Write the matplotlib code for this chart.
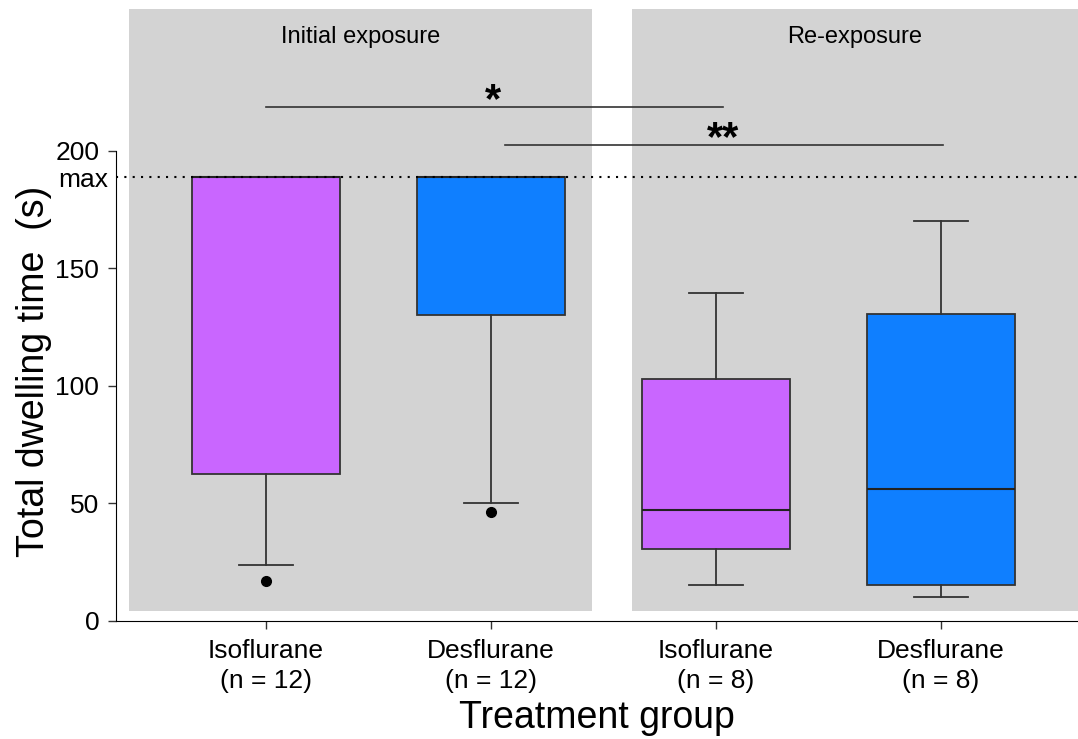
"""
Boxplot of total dwelling time by treatment group, initial exposure vs re-exposure.
"""
import numpy as np
import matplotlib.pyplot as plt
from matplotlib.patches import Rectangle

plt.rcParams.update({
    "font.family": ["Liberation Sans", "DejaVu Sans"],
    "font.size": 19,
})

# ---- data
groups = ["Isoflurane\n(n = 12)", "Desflurane\n(n = 12)", "Isoflurane\n(n = 8)", "Desflurane\n(n = 8)"]
whislo = [24, 50, 15.4, 10.2]
q1 = [62.7, 130, 30.7, 15.4]
med = [189, 189, 47.3, 56.3]
q3 = [189, 189, 103, 130.5]
whishi = [189, 189, 139.4, 170]
fliers = [[17], [46.5], [], []]
colors = ["#C966FF", "#0F7FFF", "#C966FF", "#0F7FFF"]
max_time = 189
yticks = [0, 50, 100, 150, 200]
panel_names = ["Initial exposure", "Re-exposure"]
# (x start, x end, y of bar, label, x of label)
sig_pairs = [(1, 3.03, 218.6, "*", 2.01), (2.06, 4.01, 202.4, "**", 3.03)]

W, H = 1078, 739
fig = plt.figure(figsize=(W / 100, H / 100), dpi=100)
ax = fig.add_axes([116 / W, (H - 621) / H, (W - 116) / W, 621 / H])
ax.set_xlim(0.333, 4.609)
ax.set_ylim(0, 264.1)

# grey background panels
panels = [(0.391, 2.449), (2.627, 4.609)]
for (x0, x1), name in zip(panels, panel_names):
    ax.add_patch(Rectangle((x0, 4.1), x1 - x0, 256, fc="#D3D3D3", ec="none", zorder=0))
    ax.text((x0 + x1) / 2, 248.4, name, ha="center", va="center", fontsize=17)

stats = []
for i in range(len(groups)):
    stats.append(dict(whislo=whislo[i], q1=q1[i], med=med[i], q3=q3[i],
                      whishi=whishi[i], fliers=fliers[i]))
pos = np.arange(1, len(groups) + 1)
edge = "#333333"
bp = ax.bxp(stats, positions=pos, widths=0.66, patch_artist=True,
            boxprops=dict(edgecolor=edge, linewidth=1.3),
            medianprops=dict(color="#222222", linewidth=1.5),
            whiskerprops=dict(color=edge, linewidth=1.3),
            capprops=dict(color=edge, linewidth=1.3),
            capwidths=0.24,
            flierprops=dict(marker="o", markerfacecolor="black", markeredgecolor="black",
                            markersize=7),
            zorder=3)
for patch, c in zip(bp["boxes"], colors):
    patch.set_facecolor(c)

# max line
ax.axhline(max_time, color="black", linestyle=(0, (1, 3)), linewidth=1.5, zorder=4)
ax.text(0.333 - 0.036, max_time - 1.5, "max", ha="right", va="center", fontsize=19)

# significance bars
for x0, x1, y, lab, xl in sig_pairs:
    ax.plot([x0, x1], [y, y], color="#333333", linewidth=1.2, zorder=4)
    ax.text(xl, y - 6, lab, ha="center", va="bottom", fontsize=30, fontweight="bold")

ax.set_xticks(pos)
ax.set_xticklabels(groups, linespacing=1.3)
ax.set_yticks(yticks)
ax.spines["top"].set_visible(False)
ax.spines["right"].set_visible(False)
ax.spines["left"].set_bounds(0, 200)
ax.tick_params(axis="both", direction="out", length=6, width=1, color="#333333", pad=6)
ax.tick_params(axis="x", pad=7)
ax.set_ylabel("Total dwelling time  (s)", fontsize=27)
ax.set_xlabel("Treatment group", fontsize=27, labelpad=5)
ax.yaxis.set_label_coords(-0.067, 0.4026)

fig.savefig("out.png", dpi=100)
